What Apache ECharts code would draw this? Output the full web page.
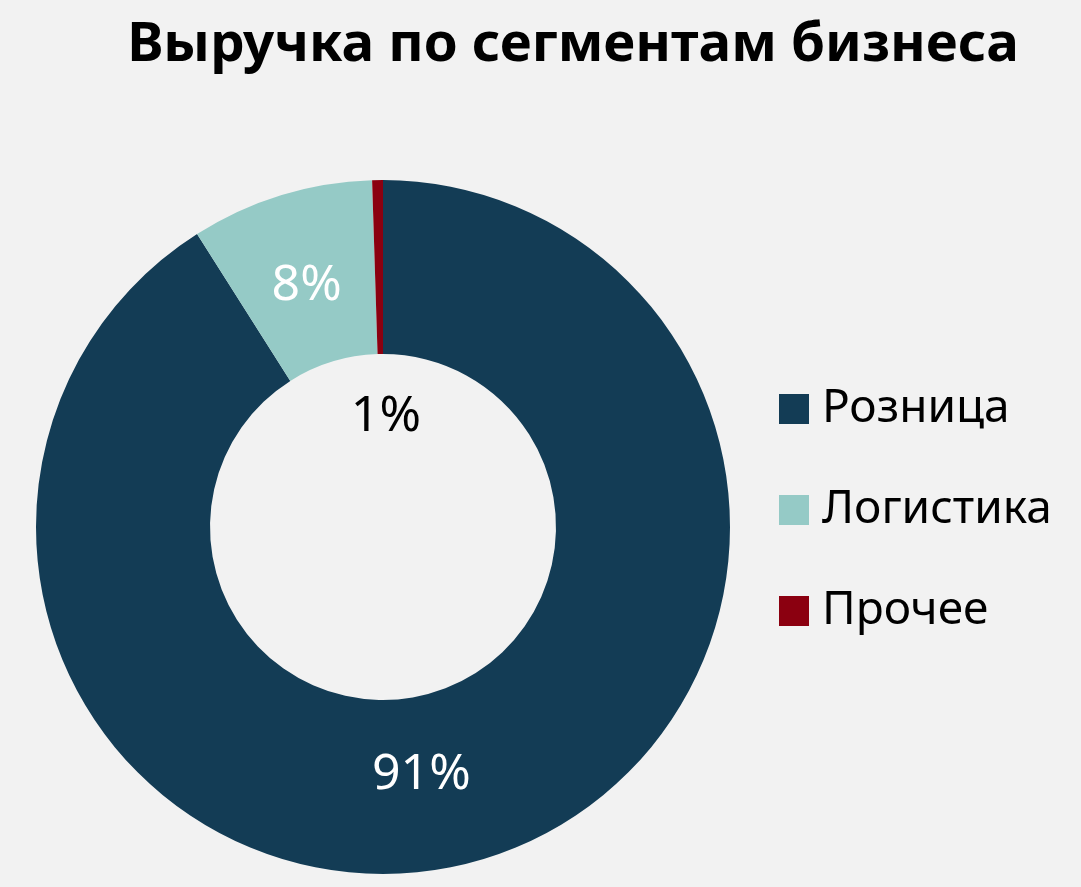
<!DOCTYPE html>
<html><head><meta charset="utf-8">
<script src="https://cdn.jsdelivr.net/npm/echarts@6/dist/echarts.min.js"></script>
<style>html,body{margin:0;padding:0;background:#f2f2f2}#c{width:1081px;height:887px}</style>
</head><body><div id="c"></div>
<script>
const categories = ["Розница", "Логистика", "Прочее"];
const values = [91.0, 8.5, 0.5];
const labelTexts = ["91%", "8%", "1%"];
const colors = ["#133c55", "#95cac6", "#8b0010"];

const chart = echarts.init(document.getElementById('c'));
const labelCfg = [
  {color: '#ffffff', offset: [-35, -5]},
  {color: '#ffffff', offset: [1, 10]},
  {color: '#000000', offset: [7, 153]}
];
chart.setOption({
  backgroundColor: '#f2f2f2',
  animation: false,
  title: {
    text: 'Выручка по сегментам бизнеса',
    left: 568, top: 13, textAlign: 'center',
    textStyle: {fontFamily: 'Noto Sans', fontWeight: 'bold', fontSize: 54.6, color: '#000'}
  },
  legend: {
    orient: 'vertical', left: 779, top: 386, padding: 0,
    itemWidth: 30, itemHeight: 30, itemGap: 55, icon: 'rect',
    textStyle: {fontFamily: 'Noto Sans', fontSize: 46, color: '#000', padding: [0, 0, 0, 8]},
    data: categories
  },
  series: [{
    type: 'pie',
    center: [383, 527],
    radius: [173, 347],
    startAngle: 90,
    clockwise: true,
    avoidLabelOverlap: false,
    itemStyle: {borderWidth: 0},
    label: {position: 'inside', fontFamily: 'Noto Sans', fontSize: 50},
    labelLine: {show: false},
    data: categories.map((n, i) => ({
      name: n, value: values[i],
      itemStyle: {color: colors[i]},
      label: Object.assign({formatter: labelTexts[i]}, labelCfg[i])
    }))
  }]
});
</script></body></html>
